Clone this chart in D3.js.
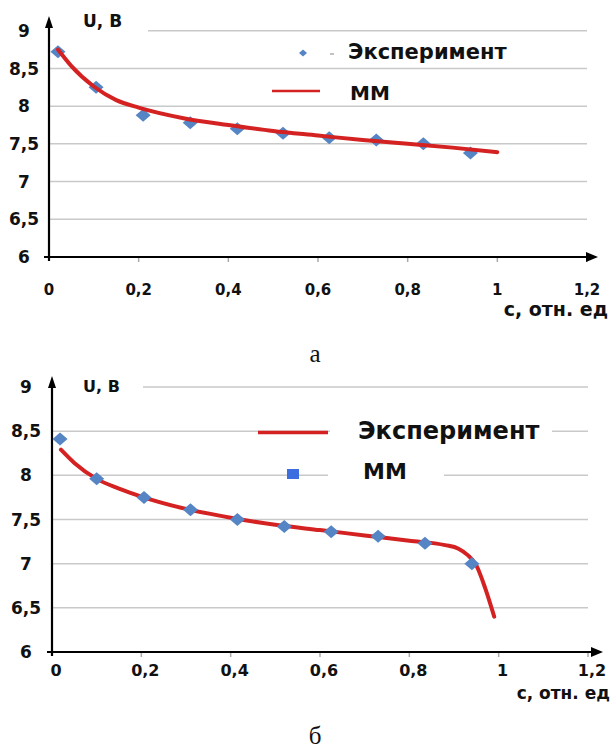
<!DOCTYPE html>
<html>
<head>
<meta charset="utf-8">
<script src="https://cdn.jsdelivr.net/npm/d3@7"></script>
<style>
  body { margin: 0; background: #fff; }
  text { font-family: "DejaVu Sans", sans-serif; font-weight: bold; fill: #111; }
</style>
</head>
<body>
<div id="chart"></div>
<script>
// axis ticks (same for both panels)
let xTicks = [0, 0.2, 0.4, 0.6, 0.8, 1, 1.2];
let yTicks = [6, 6.5, 7, 7.5, 8, 8.5, 9];

// panel "а": experiment points and model curve
let expA_c = [0.02, 0.105, 0.21, 0.315, 0.42, 0.522, 0.625, 0.73, 0.835, 0.94];
let expA_u = [8.72, 8.25, 7.88, 7.78, 7.70, 7.64, 7.58, 7.55, 7.50, 7.38];
let mmA_c = [0.02, 0.05, 0.1, 0.15, 0.2, 0.3, 0.4, 0.5, 0.6, 0.7, 0.8, 0.9, 1.0];
let mmA_u = [8.75, 8.53, 8.26, 8.08, 7.98, 7.84, 7.75, 7.67, 7.61, 7.55, 7.50, 7.45, 7.39];

// panel "б"
let expB_c = [0.018, 0.10, 0.206, 0.31, 0.415, 0.52, 0.625, 0.73, 0.835, 0.94];
let expB_u = [8.41, 7.96, 7.75, 7.61, 7.50, 7.42, 7.36, 7.31, 7.23, 7.00];
let mmB_c = [0.02, 0.05, 0.1, 0.15, 0.2, 0.3, 0.4, 0.5, 0.6, 0.7, 0.8, 0.88, 0.91, 0.93, 0.95, 0.97, 0.99];
let mmB_u = [8.29, 8.14, 7.96, 7.85, 7.76, 7.62, 7.52, 7.44, 7.38, 7.32, 7.26, 7.21, 7.17, 7.10, 6.98, 6.72, 6.40];

let width = 613, height = 751;
let blue = "#5585c5", red = "#d42222", grid = "#c9c9c9";

let svg = d3.select("#chart")
    .append("svg")
    .attr("width", width)
    .attr("height", height);

let fmt = d => String(d).replace(".", ",");

function drawPanel(p) {
    let x = d3.scaleLinear().domain([0, 1.2]).range([p.left, p.right]);
    let y = d3.scaleLinear().domain([6, 9]).range([p.bottom, p.top]);
    let g = svg.append("g");

    // horizontal gridlines (the top one starts after the "U, B" label)
    g.selectAll(".grid").data(yTicks.slice(1)).enter()
        .append("line")
        .attr("x1", d => d === 9 ? p.gridStart9 : x(0))
        .attr("x2", p.right)
        .attr("y1", d => y(d)).attr("y2", d => y(d))
        .attr("stroke", grid).attr("stroke-width", 1.5);

    // small gray ticks under the x axis
    g.selectAll(".xt").data(xTicks.slice(1)).enter()
        .append("line")
        .attr("x1", d => x(d)).attr("x2", d => x(d))
        .attr("y1", y(6)).attr("y2", y(6) + 5)
        .attr("stroke", "#aaa").attr("stroke-width", 1.5);

    // x tick labels
    g.selectAll(".xl").data(xTicks).enter()
        .append("text")
        .attr("x", d => x(d) + p.xLabelShift)
        .attr("y", p.xLabelY)
        .attr("text-anchor", "middle")
        .style("font-size", p.xFont + "px")
        .text(fmt);

    // y tick labels
    g.selectAll(".yl").data(yTicks).enter()
        .append("text")
        .attr("x", p.yLabelX)
        .attr("y", d => y(d) + p.yFont * 0.36)
        .attr("text-anchor", "middle")
        .style("font-size", p.yFont + "px")
        .text(fmt);

    // axes with arrow heads
    g.append("line")
        .attr("x1", x(0) - 5).attr("x2", p.arrowX - 8)
        .attr("y1", y(6)).attr("y2", y(6))
        .attr("stroke", "#000").attr("stroke-width", 2.2);
    g.append("path")
        .attr("d", `M${p.arrowX},${y(6)} L${p.arrowX - 12},${y(6) - 5} L${p.arrowX - 12},${y(6) + 5} Z`)
        .attr("fill", "#000");
    g.append("line")
        .attr("x1", x(0)).attr("x2", x(0))
        .attr("y1", y(6) + 4).attr("y2", p.arrowY + 8)
        .attr("stroke", "#000").attr("stroke-width", 2.2);
    g.append("path")
        .attr("d", `M${x(0)},${p.arrowY} L${x(0) - 4},${p.arrowY + 12} L${x(0) + 4},${p.arrowY + 12} Z`)
        .attr("fill", "#000");

    // axis titles
    g.append("text")
        .attr("x", p.uX).attr("y", p.uY)
        .style("font-size", p.uFont + "px")
        .text("U, B");
    g.append("text")
        .attr("x", p.cX).attr("y", p.cY)
        .attr("text-anchor", "end")
        .style("font-size", p.cFont + "px")
        .text("с, отн. ед");

    // legend
    p.legend(g);

    // model curve
    let line = d3.line()
        .x(d => x(d[0]))
        .y(d => y(d[1]))
        .curve(d3.curveMonotoneX);
    let curve = g.append("path")
        .datum(d3.zip(p.mmC, p.mmU))
        .attr("d", line)
        .attr("fill", "none")
        .attr("stroke", red)
        .attr("stroke-width", 4)
        .attr("stroke-linecap", "round");

    // experiment diamonds: under the curve on panel а, above it on panel б
    let pts = d3.zip(p.expC, p.expU);
    let holder = p.diamondsOnTop ? g.append("g") : g.insert("g", () => curve.node());
    holder.selectAll(".pt").data(pts).enter()
        .append("path")
        .attr("d", d => {
            let cx = x(d[0]), cy = y(d[1]);
            return `M${cx - 7.5},${cy} L${cx},${cy - 6.5} L${cx + 7.5},${cy} L${cx},${cy + 6.5} Z`;
        })
        .attr("fill", blue);

    // panel caption
    svg.append("text")
        .attr("x", p.capX).attr("y", p.capY)
        .attr("text-anchor", "middle")
        .style("font-family", "'Liberation Serif', serif")
        .style("font-weight", "normal")
        .style("font-size", "25px")
        .text(p.caption);
}

// panel а
drawPanel({
    left: 49, right: 587, top: 30.7, bottom: 257,
    gridStart9: 148, arrowX: 598, arrowY: 16,
    xLabelY: 295, xLabelShift: 0, xFont: 15,
    yLabelX: 24, yFont: 17,
    uX: 83, uY: 27, uFont: 17,
    cX: 608, cY: 316, cFont: 19,
    expC: expA_c, expU: expA_u, mmC: mmA_c, mmU: mmA_u,
    diamondsOnTop: false,
    capX: 315, capY: 362, caption: "а",
    legend: function(g) {
        g.append("path")
            .attr("d", "M299,53 L303,49.5 L307,53 L303,56.5 Z")
            .attr("fill", blue);
        g.append("line")
            .attr("x1", 330).attr("x2", 334).attr("y1", 54).attr("y2", 54)
            .attr("stroke", "#999").attr("stroke-width", 1.2);
        g.append("text").attr("x", 348).attr("y", 59)
            .style("font-size", "21px").text("Эксперимент");
        g.append("line")
            .attr("x1", 272).attr("x2", 320).attr("y1", 91).attr("y2", 91)
            .attr("stroke", red).attr("stroke-width", 2.5);
        g.append("text").attr("x", 350).attr("y", 100)
            .style("font-size", "20px").text("ММ");
    }
});

// panel б
drawPanel({
    left: 52, right: 588, top: 387, bottom: 652,
    gridStart9: 143, arrowX: 603, arrowY: 376,
    xLabelY: 676, xLabelShift: 4, xFont: 16,
    yLabelX: 26, yFont: 17,
    uX: 83, uY: 392, uFont: 16,
    cX: 610, cY: 699, cFont: 17,
    expC: expB_c, expU: expB_u, mmC: mmB_c, mmU: mmB_u,
    diamondsOnTop: true,
    capX: 315, capY: 744, caption: "б",
    legend: function(g) {
        // white boxes hide the gridlines behind the legend text
        g.append("rect").attr("x", 330).attr("y", 420).attr("width", 222).attr("height", 24).attr("fill", "#fff");
        g.append("rect").attr("x", 328).attr("y", 462).attr("width", 116).attr("height", 22).attr("fill", "#fff");
        g.append("line")
            .attr("x1", 258).attr("x2", 328).attr("y1", 432.5).attr("y2", 432.5)
            .attr("stroke", red).attr("stroke-width", 3.5);
        g.append("text").attr("x", 358).attr("y", 439)
            .style("font-size", "24px").text("Эксперимент");
        g.append("rect")
            .attr("x", 287).attr("y", 469).attr("width", 12).attr("height", 10)
            .attr("fill", "#3d6ee0");
        g.append("text").attr("x", 363).attr("y", 479)
            .style("font-size", "22px").text("ММ");
    }
});
</script>
</body>
</html>
